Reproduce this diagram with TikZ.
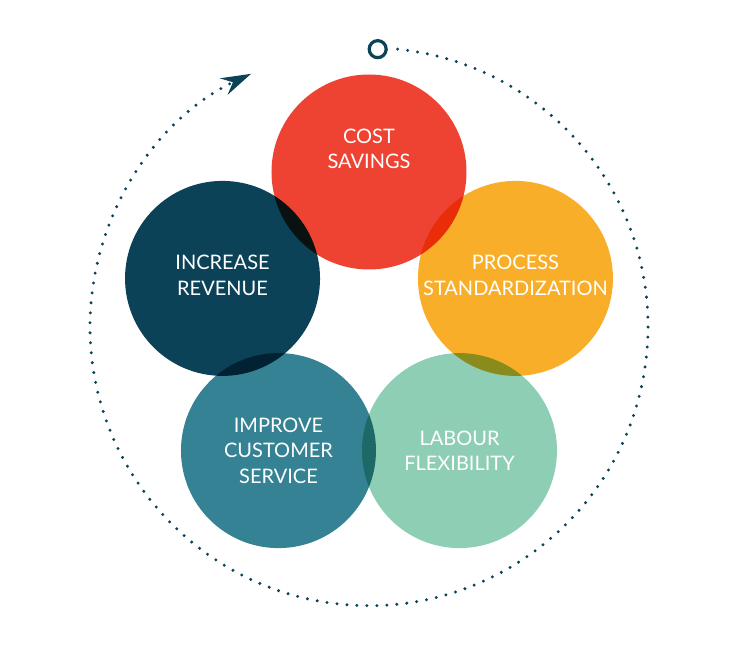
\documentclass[tikz,border=0pt]{standalone}
\usepackage{fontspec}
\setmainfont{Lato}
\usetikzlibrary{arrows.meta}
\definecolor{costred}{HTML}{EE4233}
\definecolor{processorange}{HTML}{F9AE2A}
\definecolor{labourmint}{HTML}{8DCEB5}
\definecolor{serviceteal}{HTML}{348293}
\definecolor{revenueblue}{HTML}{0B4257}

\begin{document}
\begin{tikzpicture}[x=1pt,y=1pt,
  disc/.style={circle,minimum size=195pt,inner sep=0pt},
  lbl/.style={text=white,align=center,font=\fontsize{20}{25.5}\selectfont},
  loopline/.style={revenueblue,line width=3.3pt,line cap=round,dash pattern=on 0pt off 10pt}]
  \useasboundingbox (-369,-322) rectangle (365,326);
  % five overlapping discs
  \begin{scope}[blend group=multiply]
    \foreach \ang/\name/\col in {90/cost/costred, 18/process/processorange,
        -54/labour/labourmint, -126/service/serviceteal, 162/revenue/revenueblue}
      \node[disc,fill=\col] (\name) at (\ang:154) {};
  \end{scope}
  \node[lbl] (costtxt) at ([yshift=23]cost.center) {COST\\SAVINGS};
  \node[lbl] (processtxt) at ([yshift=3]process.center) {PROCESS\\STANDARDIZATION};
  \node[lbl] (labourtxt) at ([yshift=0]labour.center) {LABOUR\\FLEXIBILITY};
  \node[lbl] (servicetxt) at ([yshift=0]service.center) {IMPROVE\\CUSTOMER\\SERVICE};
  \node[lbl] (revenuetxt) at ([yshift=3]revenue.center) {INCREASE\\REVENUE};
  % dotted cycle
  \node[draw=revenueblue,line width=3.2pt,circle,minimum size=17pt,inner sep=0pt] (start) at (88.2:277) {};
  \draw[loopline,-{Stealth[length=30pt,width=18pt,inset=10pt]}]
    (start) ++(20,0) arc[start angle=84.1,end angle=-245,radius=279];
\end{tikzpicture}
\end{document}
